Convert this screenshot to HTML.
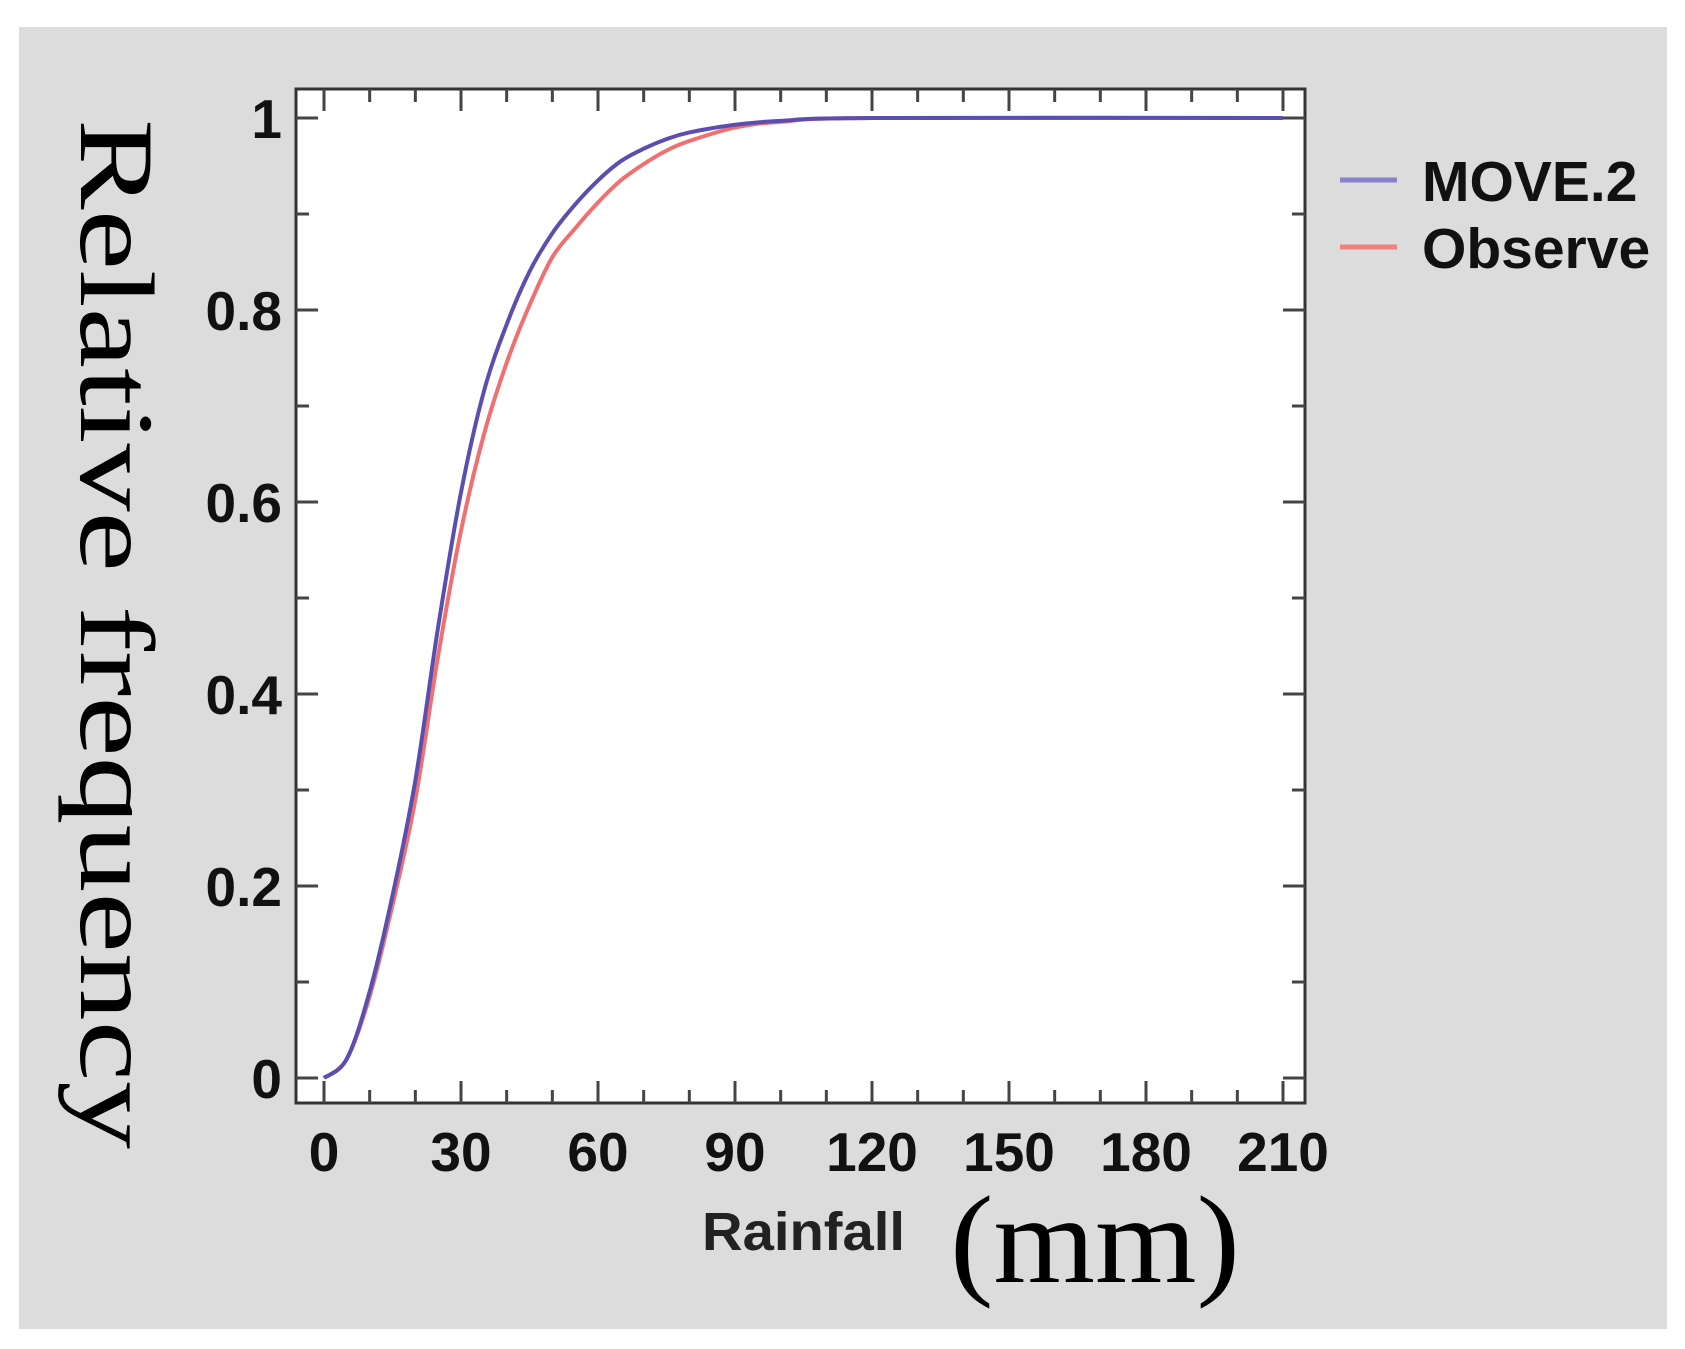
<!DOCTYPE html>
<html><head><meta charset="utf-8"><style>
html,body{margin:0;padding:0;background:#fff;}
svg{display:block;}
</style></head><body>
<svg id="chart" width="1685" height="1349" xmlns="http://www.w3.org/2000/svg">
<rect x="19" y="27" width="1648" height="1302" fill="#dcdcdc"/>
<rect x="296" y="89" width="1009" height="1014" fill="#ffffff" stroke="#333" stroke-width="3"/>
<g id="ticks"></g>
<g id="series"></g>
<g id="labels" font-family="Liberation Sans, sans-serif" font-weight="bold" fill="#111"></g>
<text x="81" y="119" transform="rotate(90 81 119)" font-family="Liberation Serif, serif" font-size="106" textLength="1030" lengthAdjust="spacingAndGlyphs" fill="#000">Relative frequency</text>
<text x="702" y="1250" font-family="Liberation Sans, sans-serif" font-weight="bold" font-size="54" textLength="203" lengthAdjust="spacingAndGlyphs" fill="#222">Rainfall</text>
<text x="950" y="1282" font-family="Liberation Serif, serif" font-size="125" textLength="290" lengthAdjust="spacingAndGlyphs" fill="#000">(mm)</text>
<g>
<line x1="1340" y1="180" x2="1397" y2="180" stroke="#8a7fd0" stroke-width="5"/>
<text x="1422" y="201" font-family="Liberation Sans, sans-serif" font-weight="bold" font-size="57" fill="#111">MOVE.2</text>
<line x1="1340" y1="247" x2="1397" y2="247" stroke="#f08080" stroke-width="5"/>
<text x="1422" y="268" font-family="Liberation Sans, sans-serif" font-weight="bold" font-size="57" fill="#111">Observe</text>
</g>
</svg>
<script>
const xValues = [0,5,10,15,20,25,30,35,40,45,50,55,60,65,70,75,80,90,100,120,210];
const moveValues = [0,0.02,0.09,0.19,0.31,0.47,0.61,0.715,0.785,0.84,0.88,0.91,0.935,0.955,0.968,0.978,0.985,0.993,0.997,1,1];
const observeValues = [0,0.02,0.085,0.18,0.29,0.44,0.57,0.67,0.745,0.805,0.855,0.885,0.912,0.935,0.952,0.966,0.976,0.99,0.996,1,1];
const xTickLabels = ["0","30","60","90","120","150","180","210"];
const yTickLabels = ["0","0.2","0.4","0.6","0.8","1"];

const NS="http://www.w3.org/2000/svg";
const L=296,R=1305,T=89,B=1103;
function sx(v){return 324+v*(1283-324)/210;}
function sy(v){return 1078-v*(1078-118);}
function mk(tag,attrs,parent){const e=document.createElementNS(NS,tag);for(const k in attrs)e.setAttribute(k,attrs[k]);parent.appendChild(e);return e;}
const ticks=document.getElementById('ticks');
for(let v=0;v<=210;v+=10){
  const len=v%30===0?22:13;
  let t=mk('line',{x1:sx(v),x2:sx(v),y1:B,y2:B-len,stroke:'#444','stroke-width':3},ticks);
  
  
  t=mk('line',{x1:sx(v),x2:sx(v),y1:T,y2:T+len,stroke:'#444','stroke-width':3},ticks);
  
  
}
for(let i=0;i<=10;i++){
  const v=i/10, len=i%2===0?22:13;
  let t=mk('line',{x1:L,x2:L+len,y1:sy(v),y2:sy(v),stroke:'#444','stroke-width':3},ticks);
  
  
  t=mk('line',{x1:R,x2:R-len,y1:sy(v),y2:sy(v),stroke:'#444','stroke-width':3},ticks);
  
  
}
const labels=document.getElementById('labels');
xTickLabels.forEach((s,i)=>{
  const t=mk('text',{x:sx(i*30),y:1171,'text-anchor':'middle','font-size':55},labels);
  t.textContent=s;
  
  
});
yTickLabels.forEach((s,i)=>{
  const t=mk('text',{x:282,y:sy(i*0.2)+20,'text-anchor':'end','font-size':55},labels);
  t.textContent=s;
  
  
});
const series=document.getElementById('series');
function path(vals){
  const pts=xValues.map((x,i)=>[sx(x),sy(vals[i])]);
  let d='M'+pts[0][0]+','+pts[0][1];
  for(let i=0;i<pts.length-1;i++){
    const p0=pts[Math.max(i-1,0)],p1=pts[i],p2=pts[i+1],p3=pts[Math.min(i+2,pts.length-1)];
    const c1=[p1[0]+(p2[0]-p0[0])/6,p1[1]+(p2[1]-p0[1])/6];
    const c2=[p2[0]-(p3[0]-p1[0])/6,p2[1]-(p3[1]-p1[1])/6];
    d+=' C'+c1+' '+c2+' '+p2;
  }
  return d;
}
let p=mk('path',{d:path(observeValues),fill:'none',stroke:'#f07070','stroke-width':4},series);


p=mk('path',{d:path(moveValues),fill:'none',stroke:'#5a4fb0','stroke-width':4},series);


</script>
</body></html>
